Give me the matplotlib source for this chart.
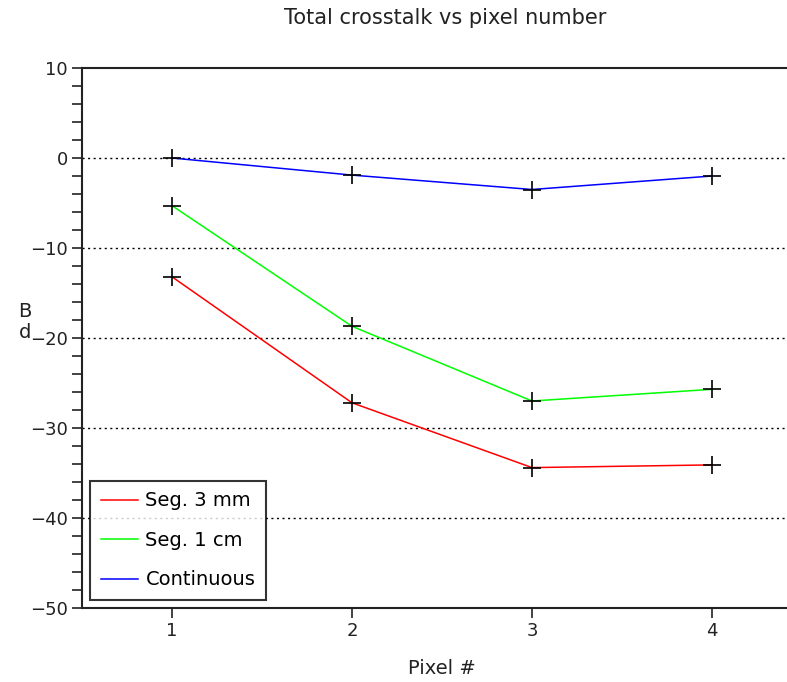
import matplotlib
matplotlib.use("Agg")
import matplotlib.pyplot as plt
from matplotlib.ticker import MultipleLocator

pixels = [1, 2, 3, 4]
seg_3mm = [-13.2, -27.2, -34.4, -34.1]
seg_1cm = [-5.3, -18.7, -27.0, -25.7]
continuous = [0.0, -1.9, -3.5, -2.0]
labels = ["Seg. 3 mm", "Seg. 1 cm", "Continuous"]
colors = ["#ff0000", "#00ff00", "#0000ff"]

W, H = 787, 682
plt.rcParams['font.family'] = ['DejaVu Sans']
fig = plt.figure(figsize=(W / 100, H / 100), dpi=100)
left, right, top, bottom = 82, 802, 68, 608
ax = fig.add_axes([left / W, 1 - bottom / H, (right - left) / W, (bottom - top) / H])
ax.set_xlim(0.5, 4.5)
ax.set_ylim(-50, 10)

for vals, lab, col in zip([seg_3mm, seg_1cm, continuous], labels, colors):
    ax.plot(pixels, vals, color=col, lw=1.1, label=lab, zorder=3)
    ax.plot(pixels, vals, ls='none', marker='+', ms=13, mew=1.2, color='black', zorder=4)

for g in [0, -10, -20, -30, -40]:
    ax.axhline(g, color='black', lw=1.0, ls=(0, (1.5, 2.5)), zorder=1)

ax.set_xticks(pixels)
ax.yaxis.set_major_locator(MultipleLocator(10))
ax.yaxis.set_minor_locator(MultipleLocator(2))
ax.tick_params(axis='both', which='major', direction='out', length=7, width=1.2, labelsize=13, colors='#222222', pad=3)
ax.tick_params(axis='y', which='minor', direction='out', length=7, width=1.2, colors='#222222')
for s in ['left', 'bottom', 'top']:
    ax.spines[s].set_linewidth(1.5)
    ax.spines[s].set_color('#222222')
ax.spines['right'].set_visible(False)

ax.set_yticklabels([str(int(v)).replace('-', '\u2212') for v in ax.get_yticks()])

fig.text(445 / W, 1 - 18 / H, "Total crosstalk vs pixel number", ha='center', va='center', fontsize=15, color='#222222')
fig.text(442 / W, 1 - 668 / H, "Pixel #", ha='center', va='center', fontsize=14, color='#222222')
fig.text(25 / W, 1 - 322 / H, "B\nd", ha='center', va='center', fontsize=14, color='#222222', linespacing=1.15)

leg = ax.legend(loc='lower left', bbox_to_anchor=(90 / W, 1 - 600 / H), bbox_transform=fig.transFigure,
                borderaxespad=0, frameon=True, fancybox=False, edgecolor='black', fontsize=14,
                handlelength=1.9, handletextpad=0.4, labelspacing=1.05, borderpad=0.55)
leg.get_frame().set_linewidth(1.5)
leg.set_zorder(5)

fig.savefig("out.png", dpi=100)
